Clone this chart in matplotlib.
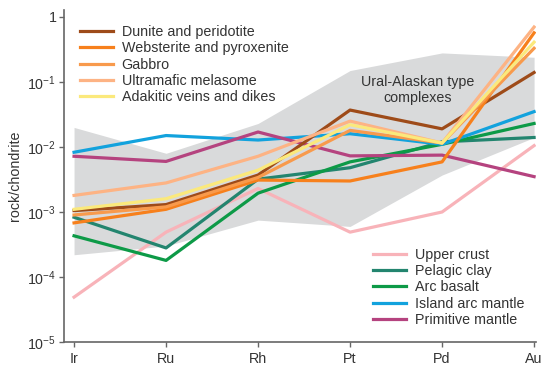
import matplotlib
matplotlib.use("Agg")
import matplotlib.pyplot as plt
import numpy as np

plt.rcParams["font.family"] = ["Liberation Sans", "DejaVu Sans"]
plt.rcParams["mathtext.default"] = "regular"

elements = ["Ir", "Ru", "Rh", "Pt", "Pd", "Au"]

# Ural-Alaskan type complexes field (grey band)
band_top = [0.020, 0.008, 0.023, 0.15, 0.28, 0.24]
band_bottom = [2.2e-4, 3.0e-4, 7.5e-4, 6.0e-4, 3.7e-3, 0.014]

# Ural-Alaskan rock types
dunite = [1.05e-3, 1.3e-3, 3.7e-3, 0.037, 0.019, 0.14]
websterite = [0.68e-3, 1.1e-3, 3.1e-3, 3.0e-3, 5.9e-3, 0.57]
gabbro = [0.90e-3, 1.2e-3, 3.4e-3, 0.018, 0.0115, 0.33]
melasome = [1.8e-3, 2.8e-3, 7.2e-3, 0.025, 0.0115, 0.70]
adakitic = [1.1e-3, 1.6e-3, 4.4e-3, 0.022, 0.0115, 0.41]

# reference reservoirs
upper_crust = [4.9e-5, 4.9e-4, 2.3e-3, 4.9e-4, 1.0e-3, 0.0105]
pelagic_clay = [0.83e-3, 2.8e-4, 3.2e-3, 4.8e-3, 0.012, 0.014]
arc_basalt = [0.43e-3, 1.8e-4, 1.95e-3, 5.9e-3, 0.011, 0.023]
island_arc = [8.3e-3, 0.015, 0.0128, 0.016, 0.011, 0.035]
primitive = [7.2e-3, 6.0e-3, 0.017, 7.3e-3, 7.5e-3, 3.5e-3]

FS = 10.3

fig = plt.figure(figsize=(5.5, 3.72), dpi=100)
ax = fig.add_axes([0.1164, 0.0806, 0.858, 0.8925])
x = np.arange(len(elements))

ax.fill_between(x, band_bottom, band_top, color="#d9dadb", lw=0, zorder=1)
ax.text(3.73, 0.075, "Ural-Alaskan type\ncomplexes", ha="center", va="center",
        fontsize=FS, color="#333333", linespacing=1.15, zorder=2)

lw = 2.3
ref = [
    (upper_crust, "#f8b3b9", "Upper crust"),
    (pelagic_clay, "#23856f", "Pelagic clay"),
    (arc_basalt, "#0d9a47", "Arc basalt"),
    (island_arc, "#12a2dd", "Island arc mantle"),
    (primitive, "#b5437f", "Primitive mantle"),
]
ural = [
    (dunite, "#9e4b19", "Dunite and peridotite"),
    (websterite, "#f7801c", "Websterite and pyroxenite"),
    (gabbro, "#f89a4c", "Gabbro"),
    (melasome, "#fdb384", "Ultramafic melasome"),
    (adakitic, "#fbe97c", "Adakitic veins and dikes"),
]
ref_lines = []
for vals, c, lab in ref:
    ln, = ax.plot(x, vals, color=c, lw=lw, label=lab, zorder=3)
    ref_lines.append(ln)
ural_lines = []
for vals, c, lab in ural:
    ln, = ax.plot(x, vals, color=c, lw=lw, label=lab, zorder=4)
    ural_lines.append(ln)

ax.set_yscale("log")
ax.set_ylim(1e-5, 1.28)
ax.set_xlim(-0.109, 5.02)
ax.set_xticks(x)
ax.set_xticklabels(elements)
ax.set_yticks([1e-5, 1e-4, 1e-3, 1e-2, 1e-1, 1])
ax.set_yticklabels(["$10^{-5}$", "$10^{-4}$", "$10^{-3}$", "$10^{-2}$", "$10^{-1}$", "1"])
ax.minorticks_off()
ax.tick_params(axis="both", labelsize=FS, labelcolor="#333333", color="#666666",
               direction="out", length=3.5, width=1)
ax.tick_params(axis="y", pad=2)
ax.set_ylabel("rock/chondrite", fontsize=FS, color="#333333", labelpad=4)

for s in ["top", "right"]:
    ax.spines[s].set_visible(False)
for s in ["left", "bottom"]:
    ax.spines[s].set_color("#666666")
    ax.spines[s].set_linewidth(1.2)

leg1 = ax.legend(handles=ural_lines, loc="upper left", bbox_to_anchor=(0.034, 0.955),
                 frameon=False, fontsize=FS, borderpad=0, handlelength=2.3,
                 handletextpad=0.6, labelspacing=0.16, borderaxespad=0)
for t in leg1.get_texts():
    t.set_color("#333333")
ax.add_artist(leg1)
leg2 = ax.legend(handles=ref_lines, loc="lower left", bbox_to_anchor=(0.655, 0.045),
                 frameon=False, fontsize=FS, borderpad=0, handlelength=2.3,
                 handletextpad=0.6, labelspacing=0.16, borderaxespad=0)
for t in leg2.get_texts():
    t.set_color("#333333")

fig.savefig("out.png", dpi=100)
